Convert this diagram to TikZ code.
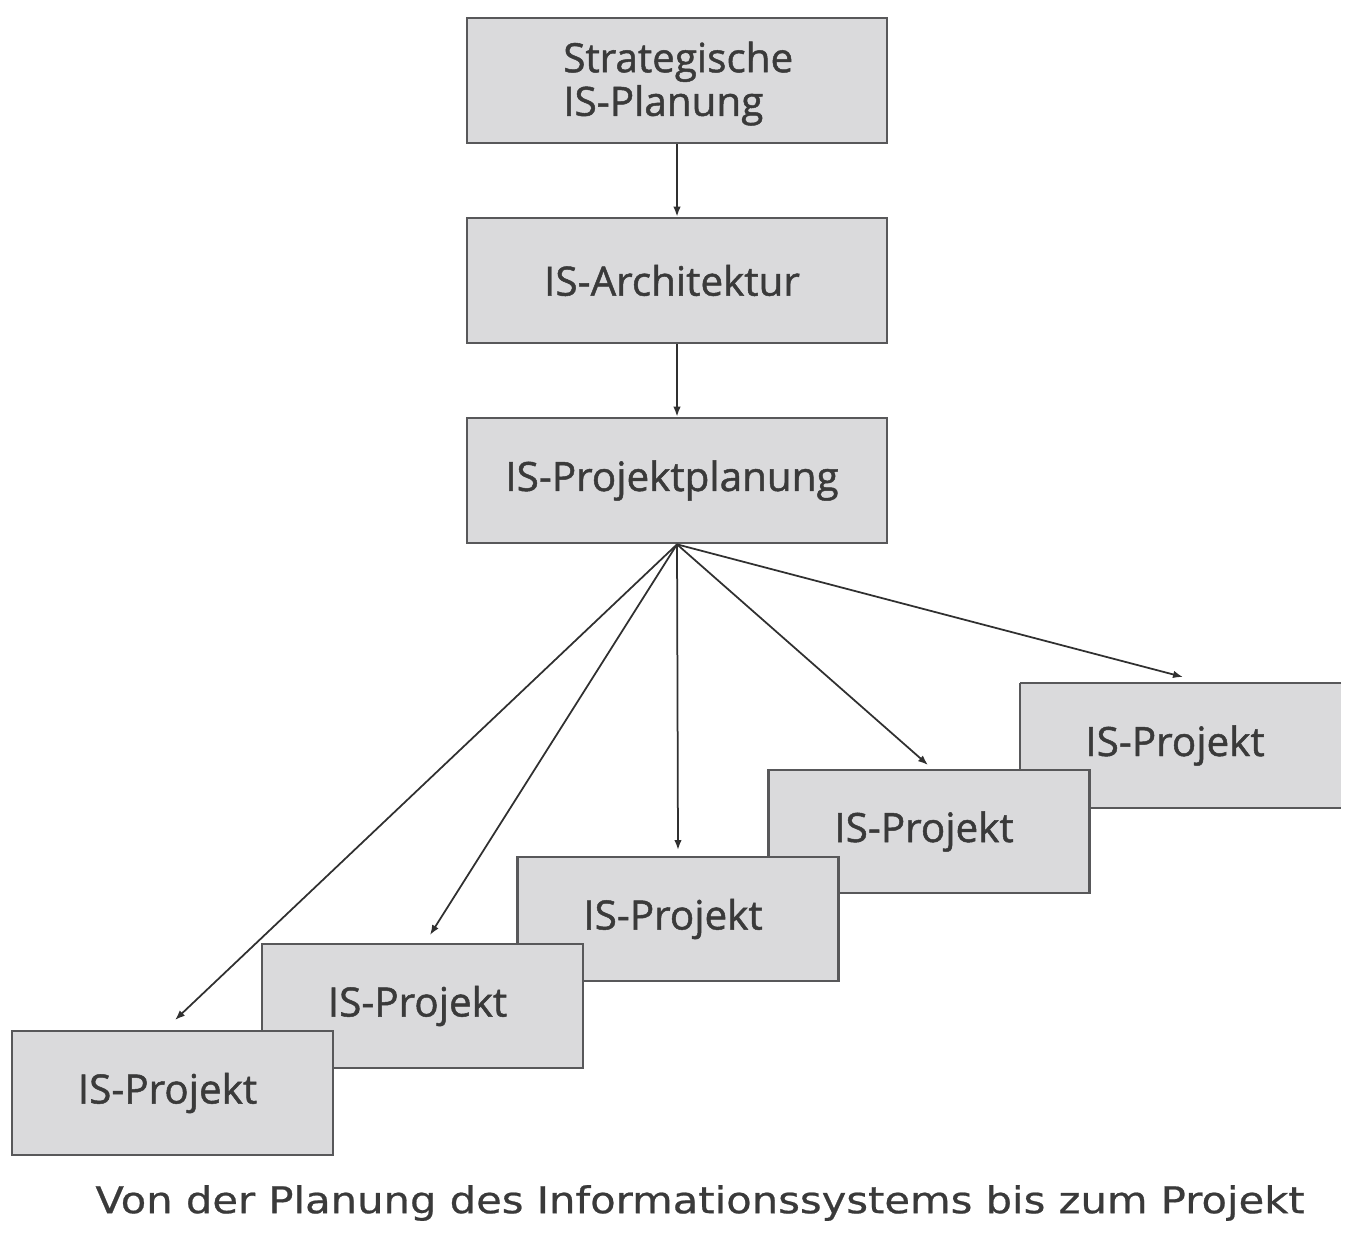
\documentclass[tikz,border=0pt]{standalone}
\usepackage{graphicx}
\usepackage{fontspec}
\setmainfont{Open Sans}[RawFeature={embolden=1.2}]
\newfontfamily\capfont{DejaVu Sans}[RawFeature={embolden=0.6}]
\usetikzlibrary{arrows.meta,calc}
\definecolor{boxfill}{HTML}{DADADC}
\definecolor{boxline}{HTML}{58585A}
\definecolor{arrowcol}{HTML}{303030}
\definecolor{txt}{HTML}{3A3A3A}
\begin{document}
\begin{tikzpicture}[x=0.02cm,y=-0.02cm,
  bigbox/.style={rectangle, draw=boxline, fill=boxfill, line width=0.055cm,
    minimum width=8.4cm, minimum height=2.5cm, inner sep=0pt,
    font=\fontsize{23}{24.5}\selectfont, text=txt},
  projbox/.style={rectangle, draw=boxline, fill=boxfill, line width=0.055cm,
    minimum width=6.42cm, minimum height=2.48cm, inner sep=0pt,
    font=\fontsize{23}{24.5}\selectfont, text=txt},
  edge/.style={draw=boxline, line width=0.055cm},
  conn/.style={draw=arrowcol, line width=0.035cm,
    -{Latex[length=0.2cm,width=0.15cm]}}]
\useasboundingbox (0,0) rectangle (1364,1236);

% top chain
\node[bigbox] (b1) at (677,80.5) {\hspace*{0.05cm}\begin{tabular}{@{}l@{}}\rule{0pt}{0.8cm}Strategische\\IS-Planung\end{tabular}};
\node[bigbox] (b2) at (677,280.5) {\hspace*{-0.2cm}IS-Architektur};
\node[bigbox] (b3) at (677,480.5) {\hspace*{-0.2cm}IS-Projektplanung};

\draw[conn] (b1.south) -- (b2.north);
\draw[conn] (b2.south) -- (b3.north);

% projects (back to front)
\path[fill=boxfill] (1020,683) -- (1341,683) -- (1341,808) -- (1020,808) -- cycle;
\node[font=\fontsize{23}{24.5}\selectfont, text=txt, inner sep=0pt, outer sep=0pt, minimum width=6.4cm, minimum height=2.5cm] (p5) at (1180,745.5) {\hspace*{-0.2cm}IS-Projekt};
\draw[edge] (1341,683) -- (1020,683);
\draw[edge] (1020,683) -- (1020,808);
\draw[edge] (1020,808) -- (1341,808);
\node[projbox, minimum height=2.46cm] (p4) at (929,831.5) {\hspace*{-0.2cm}IS-Projekt};
\node[projbox] (p3) at (678,919) {\hspace*{-0.2cm}IS-Projekt};
\node[projbox] (p2) at (422.5,1006) {\hspace*{-0.2cm}IS-Projekt};
\node[projbox] (p1) at (172.5,1093) {\hspace*{-0.2cm}IS-Projekt};

\coordinate (e1) at (175,1020);
\coordinate (e2) at (430,935);
\coordinate (e3) at (678,850);
\coordinate (e4) at (928,765);
\coordinate (e5) at (1183,677);

\foreach \k in {1,...,5}{
  \draw[conn] (b3.south) -- (e\k);
}

\node[font=\capfont\fontsize{21}{24}\selectfont, text=txt, inner sep=0pt] (cap) at (700,1203)
  {\scalebox{1.13}[1]{Von der Planung des Informationssystems bis zum Projekt}};
\end{tikzpicture}
\end{document}
